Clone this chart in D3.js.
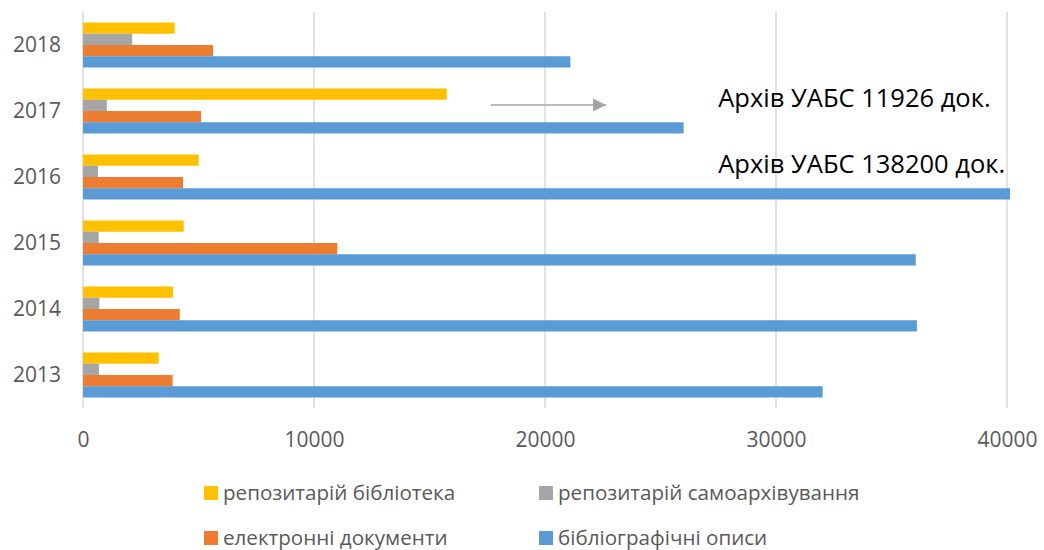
<!DOCTYPE html>
<html>
<head>
<meta charset="utf-8">
<script src="https://cdnjs.cloudflare.com/ajax/libs/d3/7.8.5/d3.min.js"></script>
<style>
  body { margin: 0; background: #fff; }
  text { font-family: "Open Sans", sans-serif; }
</style>
</head>
<body>
<div id="chart"></div>
<script>
// data
var years = ["2018", "2017", "2016", "2015", "2014", "2013"];
var seriesNames = ["репозитарій бібліотека", "репозитарій самоархівування", "електронні документи", "бібліографічні описи"];
var seriesColors = ["#FFC000", "#A5A5A5", "#ED7D31", "#5B9BD5"];
var libraryRepo  = [3970, 15750, 5010, 4360, 3900, 3280];
var selfArchive  = [2130, 1030, 650, 680, 710, 690];
var electronic   = [5630, 5110, 4330, 11010, 4190, 3880];
var bibliography = [21100, 26000, 40130, 36050, 36100, 32020];
var xTicks = [0, 10000, 20000, 30000, 40000];

// annotations (in data units)
var notes = [
  { year: "2017", x: 27500, text: "Архів УАБС 11926 док." },
  { year: "2016", x: 27500, text: "Архів УАБС 138200 док." }
];
var arrow = { year: "2017", from: 17650, to: 22650 };

var width = 1044, height = 550;
var margin = { top: 12, left: 83, right: 37, bottom: 142 };

var values = [libraryRepo, selfArchive, electronic, bibliography];
var rows = years.map(function(y, i) {
  return { year: y, vals: values.map(function(v) { return v[i]; }) };
});

var svg = d3.select("#chart").append("svg")
  .attr("width", width)
  .attr("height", height);

var x = d3.scaleLinear()
  .domain([0, 40000])
  .range([margin.left, width - margin.right]);

var y = d3.scaleBand()
  .domain(years)
  .range([margin.top, height - margin.bottom])
  .padding(0);

var inner = d3.scaleBand()
  .domain(d3.range(seriesNames.length))
  .range([0, y.bandwidth()])
  .paddingInner(0)
  .paddingOuter(0.933);

// gridlines
svg.append("g")
  .selectAll("line")
  .data(xTicks)
  .join("line")
    .attr("x1", function(d) { return x(d); })
    .attr("x2", function(d) { return x(d); })
    .attr("y1", margin.top)
    .attr("y2", height - margin.bottom)
    .attr("stroke", "#d9d9d9")
    .attr("stroke-width", 1.5);

// bars
var groups = svg.append("g")
  .selectAll("g")
  .data(rows)
  .join("g")
    .attr("transform", function(d) { return "translate(0," + y(d.year) + ")"; });

groups.selectAll("rect")
  .data(function(d) { return d.vals; })
  .join("rect")
    .attr("x", x(0))
    .attr("y", function(d, i) { return inner(i); })
    .attr("width", function(d) { return x(d) - x(0); })
    .attr("height", inner.bandwidth())
    .attr("fill", function(d, i) { return seriesColors[i]; });

// x axis labels
var xAxis = svg.append("g")
  .attr("transform", "translate(0," + (height - margin.bottom) + ")")
  .call(d3.axisBottom(x).tickValues(xTicks).tickSize(0).tickPadding(24).tickFormat(d3.format("d")));
xAxis.select(".domain").remove();
xAxis.selectAll("text")
  .attr("fill", "#595959")
  .style("font-size", "21px");

// y axis labels
var yAxis = svg.append("g")
  .attr("transform", "translate(" + (margin.left - 22) + ",0)")
  .call(d3.axisLeft(y).tickSize(0).tickPadding(0));
yAxis.select(".domain").remove();
yAxis.selectAll("text")
  .attr("fill", "#595959")
  .style("font-size", "21px");

// arrow
svg.append("defs").append("marker")
  .attr("id", "head")
  .attr("viewBox", "0 0 10 10")
  .attr("refX", 10)
  .attr("refY", 5)
  .attr("markerWidth", 8.5)
  .attr("markerHeight", 9)
  .attr("markerUnits", "strokeWidth")
  .attr("orient", "auto")
  .append("path")
    .attr("d", "M0,0L10,5L0,10Z")
    .attr("fill", "#A5A5A5");

svg.append("line")
  .attr("x1", x(arrow.from))
  .attr("x2", x(arrow.to))
  .attr("y1", y(arrow.year) + 27)
  .attr("y2", y(arrow.year) + 27)
  .attr("stroke", "#A5A5A5")
  .attr("stroke-width", 1.6)
  .attr("marker-end", "url(#head)");

// annotation text
svg.append("g")
  .selectAll("text")
  .data(notes)
  .join("text")
    .attr("x", function(d) { return x(d.x); })
    .attr("y", function(d) { return y(d.year) + 28.5; })
    .attr("fill", "#000")
    .style("font-size", "25.5px")
    .text(function(d) { return d.text; });

// legend
var legendPos = [[204, 486], [539, 486], [204, 531], [539, 531]];
var legend = svg.append("g")
  .selectAll("g")
  .data(seriesNames)
  .join("g")
    .attr("transform", function(d, i) { return "translate(" + legendPos[i][0] + "," + legendPos[i][1] + ")"; });

legend.append("rect")
  .attr("width", 14)
  .attr("height", 14)
  .attr("fill", function(d, i) { return seriesColors[i]; });

legend.append("text")
  .attr("x", 19)
  .attr("y", 7)
  .attr("dy", "0.35em")
  .attr("fill", "#595959")
  .style("font-size", "20.6px")
  .text(function(d) { return d; });
</script>
</body>
</html>
